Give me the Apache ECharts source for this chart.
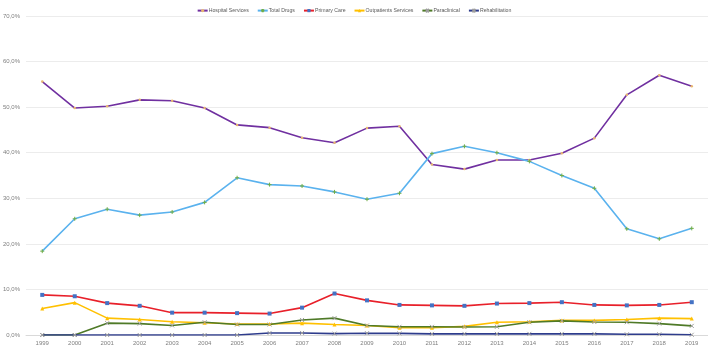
<!DOCTYPE html>
<html><head><meta charset="utf-8">
<script src="https://cdn.jsdelivr.net/npm/echarts@6/dist/echarts.min.js"></script>
<style>html,body{margin:0;padding:0;background:#fff}#c{width:708px;height:352px}</style>
</head><body><div id="c"></div>
<script>
const years = ['1999','2000','2001','2002','2003','2004','2005','2006','2007','2008','2009','2010','2011','2012','2013','2014','2015','2016','2017','2018','2019'];
const hospitalServices = [55.6,49.8,50.2,51.6,51.4,49.8,46.1,45.5,43.3,42.2,45.4,45.8,37.4,36.4,38.4,38.4,39.9,43.2,52.7,57.0,54.6];
const totalDrugs = [18.4,25.5,27.6,26.3,27.0,29.1,34.5,33.0,32.7,31.4,29.8,31.1,39.8,41.4,40.0,38.1,35.0,32.2,23.3,21.1,23.4];
const primaryCare = [8.8,8.5,7.0,6.4,4.9,4.9,4.8,4.7,6.0,9.1,7.6,6.6,6.5,6.4,6.9,7.0,7.2,6.6,6.5,6.6,7.2];
const outpatientsServices = [5.8,7.1,3.7,3.4,2.9,2.7,2.4,2.4,2.6,2.3,2.1,1.6,1.6,1.9,2.8,2.9,3.2,3.2,3.4,3.7,3.6];
const paraclinical = [0,0,2.6,2.5,2.1,2.8,2.3,2.3,3.3,3.7,2.1,1.8,1.8,1.75,1.8,2.8,3.1,2.85,2.8,2.5,2.0];
const rehabilitation = [0,0,0,0,0,0,0,0.45,0.45,0.3,0.4,0.35,0.25,0.25,0.25,0.25,0.25,0.25,0.15,0.15,0.05];

const X = 'path://M0,0L10,10M10,0L0,10';
const PLUS = 'path://M5,0L5,10M0,5L10,5';
function mk(name, data, lineColor, symbol, symColor, size, stroke) {
  const s = {
    name, type: 'line', data, symbol, symbolSize: size, showSymbol: true,
    lineStyle: {color: lineColor, width: 1.6},
    itemStyle: {color: symColor},
    emphasis: {disabled: true}
  };
  if (stroke) s.itemStyle = {color: 'rgba(0,0,0,0)', borderColor: symColor, borderWidth: 1};
  return s;
}
const chart = echarts.init(document.getElementById('c'), null, {renderer: 'canvas'});
chart.setOption({
  animation: false,
  legend: {
    top: 3, left: 'center', itemWidth: 10, itemHeight: 4, itemGap: 8,
    textStyle: {fontSize: 5.2, color: '#595959', fontFamily: 'Liberation Sans', padding: [0, 0, 0, -4]}
  },
  grid: {left: 24, right: -2, top: 16, bottom: 17},
  xAxis: {
    type: 'category', data: years, boundaryGap: true,
    axisLine: {lineStyle: {color: '#d9d9d9'}}, axisTick: {show: false},
    axisLabel: {fontSize: 6, color: '#7f7f7f', margin: 5, fontFamily: 'Liberation Sans'}
  },
  yAxis: {
    type: 'value', min: 0, max: 70, interval: 10,
    axisLine: {show: false}, axisTick: {show: false},
    splitLine: {lineStyle: {color: '#ececec', width: 1}},
    axisLabel: {fontSize: 6, color: '#7f7f7f', margin: 6, fontFamily: 'Liberation Sans',
      formatter: v => v.toFixed(1).replace('.', ',') + '%'}
  },
  series: [
    mk('Hospital Services', hospitalServices, '#7030A0', 'circle', '#E8B870', 2.5),
    mk('Total Drugs', totalDrugs, '#5AB2EE', PLUS, '#70AD47', 4, true),
    mk('Primary Care', primaryCare, '#E8202A', 'rect', '#4472C4', 4),
    mk('Outpatients Services', outpatientsServices, '#FFC000', 'triangle', '#FFC000', 4),
    mk('Paraclinical', paraclinical, '#4F7A28', X, '#9E9E9E', 4, true),
    mk('Rehabilitation', rehabilitation, '#2E3C8C', X, '#9E9E9E', 4, true)
  ]
});
</script></body></html>
